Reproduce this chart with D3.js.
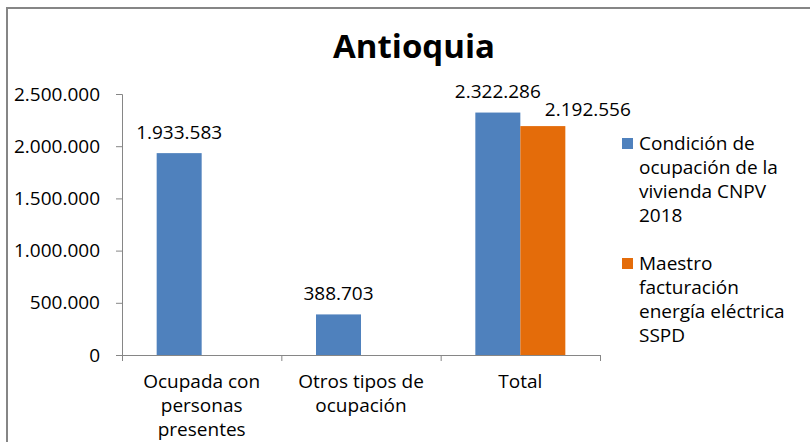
<!DOCTYPE html>
<html>
<head>
<meta charset="utf-8">
<script src="https://cdn.jsdelivr.net/npm/d3@7"></script>
<style>
  body { margin: 0; background: #fff; }
  svg { display: block; font-family: "Open Sans", sans-serif; }
</style>
</head>
<body>
<svg id="chart" width="810" height="442"></svg>
<script>
// datos
var categories = [["Ocupada con", "personas", "presentes"], ["Otros tipos de", "ocupación"], ["Total"]];
var seriesNames = [["Condición de", "ocupación de la", "vivienda CNPV", "2018"],
                   ["Maestro", "facturación", "energía eléctrica", "SSPD"]];
var censo = [1933583, 388703, 2322286];
var sspd = [null, null, 2192556];
var yTicks = [0, 500000, 1000000, 1500000, 2000000, 2500000];
var colors = ["#4F81BD", "#E46C0A"];

var svg = d3.select("#chart");
var fmt = function(v) { return d3.format(",")(v).replace(/,/g, "."); };

// borde del área del gráfico
svg.append("rect")
  .attr("x", 7).attr("y", 8)
  .attr("width", 820).attr("height", 450)
  .attr("fill", "none")
  .attr("stroke", "#868686")
  .attr("stroke-width", 2);

// título
svg.append("text")
  .attr("x", 414).attr("y", 58)
  .attr("text-anchor", "middle")
  .style("font-size", "33px")
  .style("font-weight", "bold")
  .text("Antioquia");

var x = d3.scaleBand().domain(d3.range(categories.length)).range([122, 600]);
var x1 = d3.scaleBand().domain([0, 1])
  .range([(x.bandwidth() - 90) / 2, (x.bandwidth() + 90) / 2]);
var y = d3.scaleLinear().domain([0, 2500000]).range([355, 94]);

// eje Y
var yAxis = svg.append("g")
  .attr("transform", "translate(122,0)")
  .call(d3.axisLeft(y).tickValues(yTicks).tickFormat(fmt).tickSize(6).tickPadding(16));
yAxis.select(".domain").attr("stroke", "#868686").attr("d", "M-6,94.5H0.5V355.5");
yAxis.selectAll(".tick line").attr("stroke", "#868686");
yAxis.selectAll(".tick text").style("font-size", "19px").attr("fill", "#000")
  .style("font-family", "Open Sans, sans-serif");

// eje X
var xAxisG = svg.append("g").attr("transform", "translate(0,355)");
xAxisG.append("line")
  .attr("x1", 122).attr("x2", 600).attr("y1", 0.5).attr("y2", 0.5)
  .attr("stroke", "#868686");
xAxisG.selectAll(".tk")
  .data(d3.range(categories.length + 1))
  .enter().append("line")
  .attr("x1", function(d) { return d < categories.length ? x(d) + 0.5 : 600.5; })
  .attr("x2", function(d) { return d < categories.length ? x(d) + 0.5 : 600.5; })
  .attr("y1", 0).attr("y2", 6)
  .attr("stroke", "#868686");

var catLabels = xAxisG.selectAll(".cat")
  .data(categories)
  .enter().append("text")
  .attr("text-anchor", "middle")
  .style("font-size", "19px")
  .attr("transform", function(d, i) { return "translate(" + (x(i) + x.bandwidth() / 2) + ",0)"; });
catLabels.selectAll("tspan")
  .data(function(d) { return d; })
  .enter().append("tspan")
  .attr("x", 0)
  .attr("y", function(d, i) { return 33 + i * 24; })
  .text(function(d) { return d; });

// barras
var series = [censo, sspd];
series.forEach(function(vals, s) {
  var g = svg.append("g");
  var pts = vals.map(function(v, i) { return {i: i, v: v}; }).filter(function(d) { return d.v != null; });
  g.selectAll("rect")
    .data(pts)
    .enter().append("rect")
    .attr("x", function(d) { return x(d.i) + x1(s); })
    .attr("width", x1.bandwidth())
    .attr("y", function(d) { return y(d.v); })
    .attr("height", function(d) { return y(0) - y(d.v); })
    .attr("fill", colors[s]);
  // etiquetas de datos
  g.selectAll("text")
    .data(pts)
    .enter().append("text")
    .attr("text-anchor", "middle")
    .style("font-size", "19px")
    .attr("x", function(d) { return x(d.i) + x1(s) + x1.bandwidth() / 2 + (s === 1 ? 45 : 0); })
    .attr("y", function(d) { return y(d.v) - (s === 1 ? 10 : 14.5); })
    .text(function(d) { return fmt(d.v); });
});

// leyenda
var legend = svg.selectAll(".legend")
  .data(seriesNames)
  .enter().append("g")
  .attr("class", "legend")
  .attr("transform", function(d, i) { return "translate(622," + (138 + i * 120) + ")"; });
legend.append("rect")
  .attr("width", 11).attr("height", 11)
  .attr("fill", function(d, i) { return colors[i]; });
legend.append("text")
  .style("font-size", "19px")
  .selectAll("tspan")
  .data(function(d) { return d; })
  .enter().append("tspan")
  .attr("x", 17)
  .attr("y", function(d, i) { return 11.5 + i * 24; })
  .text(function(d) { return d; });
</script>
</body>
</html>
